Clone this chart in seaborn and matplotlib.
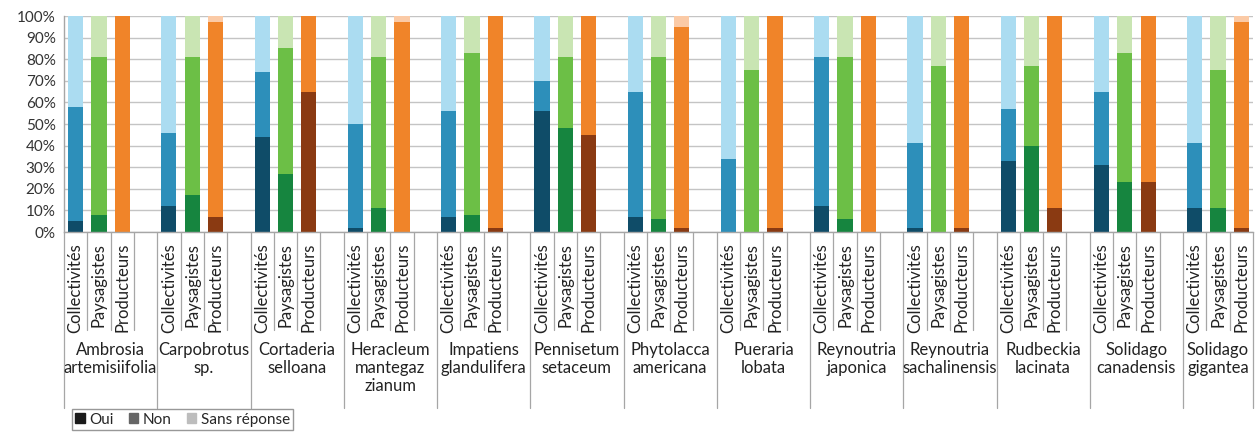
import pandas as pd
import matplotlib.pyplot as plt
import seaborn as sns
from matplotlib.patches import Patch

# Données (en %)
especes = ["Ambrosia\nartemisiifolia", "Carpobrotus\nsp.", "Cortaderia\nselloana",
           "Heracleum\nmantegaz\nzianum", "Impatiens\nglandulifera", "Pennisetum\nsetaceum",
           "Phytolacca\namericana", "Pueraria\nlobata", "Reynoutria\njaponica",
           "Reynoutria\nsachalinensis", "Rudbeckia\nlacinata", "Solidago\ncanadensis",
           "Solidago\ngigantea"]
groupes = ["Collectivités", "Paysagistes", "Producteurs"]
reponses = ["Oui", "Non", "Sans réponse"]

coll_oui = [5, 12, 44, 2, 7, 56, 7, 0, 12, 2, 33, 31, 11]
coll_non = [53, 34, 30, 48, 49, 14, 58, 34, 69, 39, 24, 34, 30]
coll_sr = [42, 54, 26, 50, 44, 30, 35, 66, 19, 59, 43, 35, 59]

pays_oui = [8, 17, 27, 11, 8, 48, 6, 0, 6, 0, 40, 23, 11]
pays_non = [73, 64, 58, 70, 75, 33, 75, 75, 75, 77, 37, 60, 64]
pays_sr = [19, 19, 15, 19, 17, 19, 19, 25, 19, 23, 23, 17, 25]

prod_oui = [0, 7, 65, 0, 2, 45, 2, 2, 0, 2, 11, 23, 2]
prod_non = [100, 90, 35, 97, 98, 55, 93, 98, 100, 98, 89, 77, 95]
prod_sr = [0, 3, 0, 3, 0, 0, 5, 0, 0, 0, 0, 0, 3]

couleurs = {
    "Collectivités": ["#0f4c68", "#2d8fba", "#abdcf1"],
    "Paysagistes": ["#16853f", "#6cbf46", "#c9e5b3"],
    "Producteurs": ["#8a3a12", "#f08429", "#fbcaa6"],
}

valeurs = {
    "Collectivités": (coll_oui, coll_non, coll_sr),
    "Paysagistes": (pays_oui, pays_non, pays_sr),
    "Producteurs": (prod_oui, prod_non, prod_sr),
}

# tableau long : une ligne par barre, position = espèce*4 + groupe (case vide après chaque espèce)
lignes = []
for i, esp in enumerate(especes):
    for j, g in enumerate(groupes):
        oui, non, sr = (v[i] for v in valeurs[g])
        lignes.append({"pos": i * 4 + j, "espece": esp, "groupe": g,
                       "oui": oui, "oui_non": oui + non, "total": oui + non + sr})
df = pd.DataFrame(lignes)

sns.set_theme(style="white")
plt.rcParams['font.family'] = ['Lato', 'DejaVu Sans']

fig = plt.figure(figsize=(12.58, 4.38), dpi=100)
ax = fig.add_axes([64 / 1258, (438 - 232) / 438, (1253 - 64) / 1258, 216 / 438])

ax.set_axisbelow(True)
ax.yaxis.grid(True, color="#c4c4c4", linewidth=1)

# barres empilées : on dessine le cumul du haut vers le bas
for col, k in [("total", 2), ("oui_non", 1), ("oui", 0)]:
    pal = {g: couleurs[g][k] for g in groupes}
    sns.barplot(data=df, x="pos", y=col, hue="groupe", palette=pal,
                native_scale=True, dodge=False, width=0.65, saturation=1,
                linewidth=0, errorbar=None, legend=False, ax=ax)

ax.set_xlim(-0.5, 50.5)
ax.set_ylim(0, 100)
ax.set_yticks(range(0, 101, 10))
ax.set_yticklabels([f"{v}%" for v in range(0, 101, 10)], fontsize=11, color="#333333")
ax.set_xticks(df["pos"])
ax.set_xticklabels(df["groupe"], rotation=90, fontsize=12, va="top", color="#222222")
ax.tick_params(axis="x", length=0, pad=8)
ax.tick_params(axis="y", length=0, pad=6)
ax.set_xlabel("")
ax.set_ylabel("")
for s in ["top", "right"]:
    ax.spines[s].set_visible(False)
for s in ["left", "bottom"]:
    ax.spines[s].set_color("#a6a6a6")
    ax.spines[s].set_linewidth(1)

# cases de l'axe des catégories
trans = ax.get_xaxis_transform()
for k in range(52):
    x = k - 0.5
    bas = -0.815 if (k % 4 == 0 or k == 51) else -0.454
    ax.plot([x, x], [0, bas], transform=trans, color="#a6a6a6", lw=0.9, clip_on=False)

n = len(especes)
for i, esp in enumerate(especes):
    # la dernière espèce n'a pas de case vide : centrée sur ses trois barres
    centre = i * 4 + (1 if i == n - 1 else 1.5)
    ax.text(centre, -0.51, esp, transform=trans, ha="center", va="top",
            fontsize=12, linespacing=1.15, color="#222222")

poignees = [Patch(color=c) for c in ["#1a1a1a", "#666666", "#bdbdbd"]]
fig.legend(poignees, reponses, loc="lower left", bbox_to_anchor=(64 / 1258, 0.0),
           ncol=3, frameon=True, fancybox=False, edgecolor="#7f7f7f", fontsize=11,
           handlelength=0.6, handleheight=0.6, handletextpad=0.3, columnspacing=1.0,
           borderpad=0.25)

fig.savefig("out.png", dpi=100)
plt.close(fig)
